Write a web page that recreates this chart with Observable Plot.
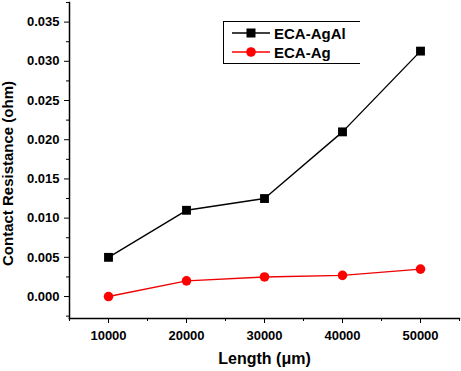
<!DOCTYPE html>
<html><head><meta charset="utf-8">
<script src="https://cdn.jsdelivr.net/npm/d3@7"></script>
<script src="https://cdn.jsdelivr.net/npm/@observablehq/plot@0.6"></script>
<style>
body{margin:0;background:#fff;font-family:"Liberation Sans",Arial,sans-serif;}
#wrap{position:relative;width:461px;height:371px;}
#legend{position:absolute;left:223px;top:21px;width:136px;height:41px;border:1px solid #000;border-right:none;font-weight:bold;font-size:15px;}
.row{position:absolute;left:0;height:20px;display:flex;align-items:center;}
.row svg{margin-left:8px;margin-right:4px;}
</style></head><body>
<div id="wrap"><div id="chart"></div>
<div id="legend">
<div class="row" style="top:1px"><svg width="38" height="14"><line x1="0" y1="7" x2="38" y2="7" stroke="#000" stroke-width="1.5"/><rect x="14.5" y="2.5" width="9" height="9" fill="#000"/></svg>ECA-AgAl</div>
<div class="row" style="top:20px"><svg width="38" height="14"><line x1="0" y1="7" x2="38" y2="7" stroke="#f00" stroke-width="1.5"/><circle cx="19" cy="7" r="4.8" fill="#f00"/></svg>ECA-Ag</div>
</div></div>
<script>
const lengths = [10000, 20000, 30000, 40000, 50000];
const agal = [0.0050, 0.0110, 0.0125, 0.0210, 0.0313];
const ag = [0.0000, 0.0020, 0.0025, 0.0027, 0.0035];
const yTicks = [0, 0.005, 0.010, 0.015, 0.020, 0.025, 0.030, 0.035];
const yMinor = [-0.0025, 0.0025, 0.0075, 0.0125, 0.0175, 0.0225, 0.0275, 0.0325, 0.0375];
const xTicks = [10000, 20000, 30000, 40000, 50000];
const xMinor = [5000, 15000, 25000, 35000, 45000, 55000];

const dAgAl = lengths.map((x,i)=>({x, y: agal[i]}));
const dAg = lengths.map((x,i)=>({x, y: ag[i]}));

const plot = Plot.plot({
  width: 461, height: 371,
  marginLeft: 69, marginBottom: 53, marginTop: 2, marginRight: 2,
  style: {fontFamily: '"Liberation Sans", Arial, sans-serif', fontWeight: "bold", fontSize: "13px", color: "#000", background: "#fff"},
  x: {domain: [5000, 55000]},
  y: {domain: [-0.0028, 0.0375]},
  marks: [
    Plot.frame({anchor: "left", stroke: "#000", strokeWidth: 1.5}),
    Plot.frame({anchor: "bottom", stroke: "#000", strokeWidth: 1.5}),
    Plot.axisY({ticks: yTicks, tickSize: 5, tickPadding: 5, tickFormat: d3.format(".3f"), label: null, fontSize: 13, fontWeight: "bold"}),
    Plot.axisY({ticks: yMinor, tickSize: 3, text: null, label: null}),
    Plot.axisX({ticks: xTicks, tickSize: 5, tickPadding: 7, tickFormat: d => String(d), label: null, fontSize: 13, fontWeight: "bold"}),
    Plot.axisX({ticks: xMinor, tickSize: 3, text: null, label: null}),
    Plot.line(dAgAl, {x: "x", y: "y", stroke: "#000", strokeWidth: 1.4}),
    Plot.dot(dAgAl, {x: "x", y: "y", symbol: "square", fill: "#000", r: 5}),
    Plot.line(dAg, {x: "x", y: "y", stroke: "#e00", strokeWidth: 1.4}),
    Plot.dot(dAg, {x: "x", y: "y", symbol: "circle", fill: "#f00", r: 4.8}),
    Plot.text(["Contact Resistance (ohm)"], {frameAnchor: "left", textAnchor: "middle", lineAnchor: "middle", dx: -61, dy: 13, rotate: -90, fontSize: 15, fontWeight: "bold"}),
    Plot.text(["Length (\u03bcm)"], {frameAnchor: "bottom", textAnchor: "middle", lineAnchor: "middle", dx: 0, dy: 40, fontSize: 16, fontWeight: "bold"})
  ]
});
document.getElementById("chart").appendChild(plot);
</script>
</body></html>
